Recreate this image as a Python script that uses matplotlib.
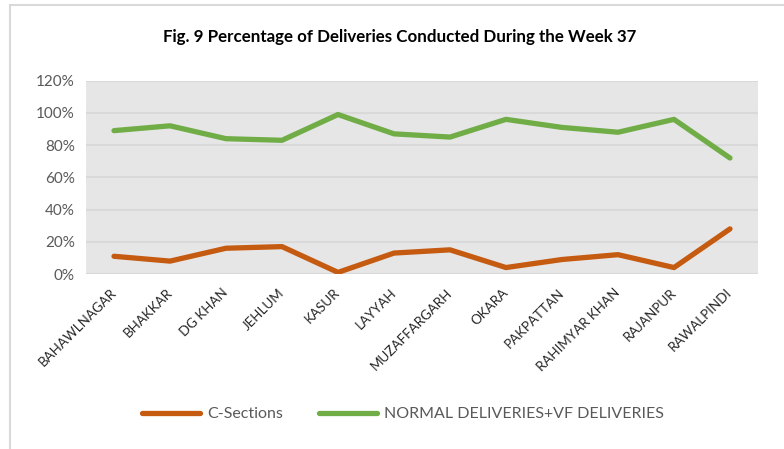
import matplotlib
matplotlib.use("Agg")
import matplotlib.pyplot as plt
from matplotlib.patches import Rectangle
from matplotlib.ticker import PercentFormatter

plt.rcParams['font.family'] = ['Lato', 'DejaVu Sans']

districts = ["BAHAWLNAGAR", "BHAKKAR", "DG KHAN", "JEHLUM", "KASUR", "LAYYAH",
             "MUZAFFARGARH", "OKARA", "PAKPATTAN", "RAHIMYAR KHAN", "RAJANPUR", "RAWALPINDI"]
c_sections = [11, 8, 16, 17, 1, 13, 15, 4, 9, 12, 4, 28]
normal_vf = [89, 92, 84, 83, 99, 87, 85, 96, 91, 88, 96, 72]
yticks = [0, 20, 40, 60, 80, 100, 120]

W, H = 784, 449
fig = plt.figure(figsize=(W / 100, H / 100), dpi=100)
ax = fig.add_axes([86 / W, 1 - 274 / H, (758 - 86) / W, (274 - 80.7) / H])
ax.set_facecolor('#e7e6e6')

x = list(range(len(districts)))
ax.plot(x, c_sections, color='#c55a11', lw=3.8, solid_capstyle='round',
        solid_joinstyle='round', label='C-Sections', zorder=3)
ax.plot(x, normal_vf, color='#70ad47', lw=3.8, solid_capstyle='round',
        solid_joinstyle='round', label='NORMAL DELIVERIES+VF DELIVERIES', zorder=3)

ax.set_xlim(-0.5, len(districts) - 0.5)
ax.set_ylim(0, 120)
ax.set_yticks(yticks)
ax.yaxis.set_major_formatter(PercentFormatter(decimals=0))
ax.grid(axis='y', color='#d9d9d9', lw=1.5)
ax.set_axisbelow(True)
for s in ax.spines.values():
    s.set_visible(False)

ax.set_xticks(x)
ax.set_xticklabels(districts, rotation=45, ha='right', va='center',
                   rotation_mode='anchor', fontsize=9.6, color='#262626')
ax.tick_params(axis='x', length=0, pad=12)
ax.tick_params(axis='y', length=0, pad=8, labelsize=11, labelcolor='#595959')

fig.text(400 / W, 1 - 37 / H, 'Fig. 9 Percentage of Deliveries Conducted During the Week 37',
         ha='center', va='center', fontsize=12.2, fontweight='bold', color='#000000')

leg = fig.legend(loc='center', bbox_to_anchor=(403 / W, 1 - 414 / H), ncol=2,
                 frameon=False, fontsize=11.5, handlelength=3.6, columnspacing=2.3,
                 handletextpad=0.45)
for t in leg.get_texts():
    t.set_color('#595959')

fig.add_artist(Rectangle((9.5 / W, -0.2), 1.5, 1.2 - 5 / H,
                         transform=fig.transFigure, fill=False,
                         edgecolor='#d9d9d9', lw=1.5))

fig.savefig('out.png', dpi=100)
